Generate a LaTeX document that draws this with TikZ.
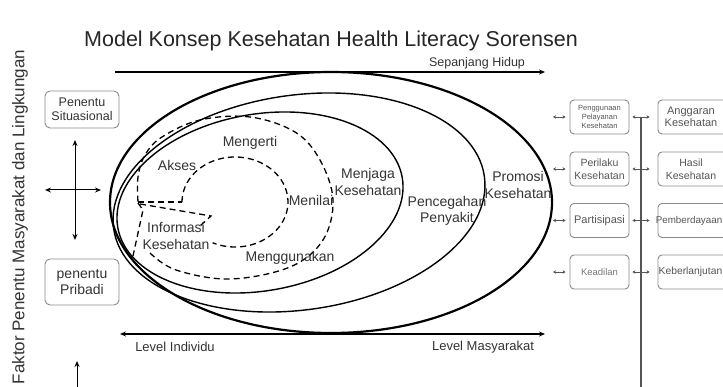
\documentclass[tikz,border=0pt]{standalone}
\usepackage{fontspec}
\setmainfont{Liberation Sans}
\usetikzlibrary{arrows.meta}
\definecolor{labelgray}{HTML}{333333}
\definecolor{boxline}{HTML}{8A8A8A}
\definecolor{sidegray}{HTML}{555555}
\begin{document}
\begin{tikzpicture}[x=1pt,y=-1pt,
  lbl/.style={font=\fontsize{14}{16.5}\selectfont, text=labelgray, inner sep=0pt, align=center},
  dsh/.style={line width=1.3pt, dash pattern=on 6pt off 4pt},
  ring/.style={line width=1.4pt},
  lbox/.style={draw=boxline, line width=0.9pt, rounded corners=5pt, text=labelgray, align=center, inner sep=0pt},
  rbox/.style={draw=boxline, line width=0.9pt, rounded corners=4pt, text=sidegray, align=center, inner sep=0pt, minimum height=34pt},
  rtxt/.style={text=sidegray, align=center, inner sep=0pt},
  bigarr/.style={line width=1.3pt, -{Stealth[length=6pt,width=5pt]}},
  bigarrs/.style={line width=1.3pt, {Stealth[length=6pt,width=5pt]}-{Stealth[length=6pt,width=5pt]}},
  sarr/.style={line width=0.6pt, draw=sidegray, {Stealth[length=3pt,width=3.5pt]}-{Stealth[length=3pt,width=3.5pt]}}
]
\useasboundingbox (0,0) rectangle (723,387);

% title and side caption
\node[font=\fontsize{21.5}{22}\selectfont, text=black!85] (title) at (331,41) {Model Konsep Kesehatan Health Literacy Sorensen};
\node[rotate=90, font=\fontsize{17}{17}\selectfont, text=labelgray] (faktor) at (20,217) {Faktor Penentu Masyarakat dan Lingkungan};

% nested rings
\draw[line width=2.2pt] (331,202.5) ellipse [x radius=221, y radius=130.5];
\draw[ring, rotate around={8:(299,202.5)}] (299,202.5) ellipse [x radius=187.2, y radius=107.4];
\draw[ring, rotate around={10:(260,202.5)}] (260,202.5) ellipse [x radius=144.4, y radius=88.3];

% dashed cycle of health information
\draw[dsh] plot[smooth, tension=0.6] coordinates {(150,253) (176,270) (230,279) (290,267) (323,240) (333,200) (320,160) (295,132) (250,117) (200,120) (162,137) (145,155) (138,177) (138,202)};
\draw[dsh] (138,203) -- (143,210) -- (133,256);
\draw[dsh] (138,202) -- (182,202);
\draw[dsh] (140,204) -- (211,216) -- (200,226);
\draw[dsh] plot[domain=180:-115, samples=60, smooth] ({235+53*cos(\x)},{202-45*sin(\x)});

% ring labels
\node[lbl] (akses) at (177,165) {Akses};
\node[lbl] (mengerti) at (250,143) {Mengerti};
\node[lbl] (menilai) at (311,200) {Menilai};
\node[lbl] (menggunakan) at (290,258) {Menggunakan};
\node[lbl] (info) at (176,236) {Informasi\\Kesehatan};
\node[lbl] (menjaga) at (368,182) {Menjaga\\Kesehatan};
\node[lbl] (pencegahan) at (447,211) {Pencegahan\\Penyakit};
\node[lbl] (promosi) at (518,185) {Promosi\\Kesehatan};

% time and level axes
\coordinate (lifeA) at (115,72);
\coordinate (lifeB) at (545,72);
\draw[bigarr] (lifeA) -- (lifeB);
\node[font=\fontsize{12.5}{13}\selectfont, text=labelgray] (hidup) at (477,63) {Sepanjang Hidup};
\coordinate (levA) at (120,334);
\coordinate (levB) at (545,334);
\draw[bigarrs] (levA) -- (levB);
\node[font=\fontsize{13}{14}\selectfont, text=labelgray] (indiv) at (175,347) {Level Individu};
\node[font=\fontsize{13}{14}\selectfont, text=labelgray] (masy) at (483,347) {Level Masyarakat};

% determinants on the left
\node[lbox, minimum width=74pt, minimum height=37pt, font=\fontsize{12.5}{14}\selectfont] (situasi) at (82,109.5) {Penentu\\Situasional};
\node[lbox, minimum width=74pt, minimum height=46pt, font=\fontsize{14}{16}\selectfont] (pribadi) at (82,282) {penentu\\Pribadi};
\coordinate (crossN) at (75,140);
\coordinate (crossS) at (75,240);
\coordinate (crossW) at (45,190);
\coordinate (crossE) at (101,190);
\draw[bigarrs, line width=1pt] (crossN) -- (crossS);
\draw[bigarrs, line width=1pt] (crossW) -- (crossE);
\coordinate (upA) at (77,390);
\coordinate (upB) at (77,361);
\draw[bigarr, line width=1pt] (upA) -- (upB);

% outcome boxes on the right
\node[rbox, minimum width=59pt, font=\fontsize{7.5}{9}\selectfont] (p1) at (599.5,117) {Penggunaan\\Pelayanan\\Kesehatan};
\node[rbox, minimum width=59pt, font=\fontsize{10.5}{12.5}\selectfont] (p2) at (599.5,169) {Perilaku\\Kesehatan};
\node[rbox, minimum width=59pt, font=\fontsize{11}{12}\selectfont] (p3) at (599.5,220.5) {Partisipasi};
\node[rbox, minimum width=59pt, font=\fontsize{9.5}{11}\selectfont, text=sidegray!80] (p4) at (599.5,272) {Keadilan};

% second column: frames run past the right edge
\foreach \r/\y in {1/117,2/169,3/220.5,4/272}{
  \node[rbox, minimum width=74pt] (b\r) at (695,\y) {};
}
\node[rtxt, font=\fontsize{11}{12.5}\selectfont] (a1) at (691,117) {Anggaran\\Kesehatan};
\node[rtxt, font=\fontsize{10.5}{12.5}\selectfont] (a2) at (691,169) {Hasil\\Kesehatan};
\node[rtxt, font=\fontsize{9.8}{12}\selectfont] (a3) at (689,220.5) {Pemberdayaan};
\node[rtxt, font=\fontsize{10.3}{12}\selectfont] (a4) at (690.5,272) {Keberlanjutan};

\foreach \r/\y in {1/117,2/169,3/220.5,4/272}{
  \coordinate (in\r) at (553,\y);
  \draw[sarr, shorten >=4pt] (in\r) -- (p\r.west);
  \draw[sarr, shorten <=3pt, shorten >=8pt] (p\r.east) -- (b\r.west);
}
\coordinate (vtop) at (641,117);
\coordinate (vbot) at (641,390);
\draw[draw=sidegray, line width=1.3pt] (vtop) -- (vbot);
\end{tikzpicture}
\end{document}
